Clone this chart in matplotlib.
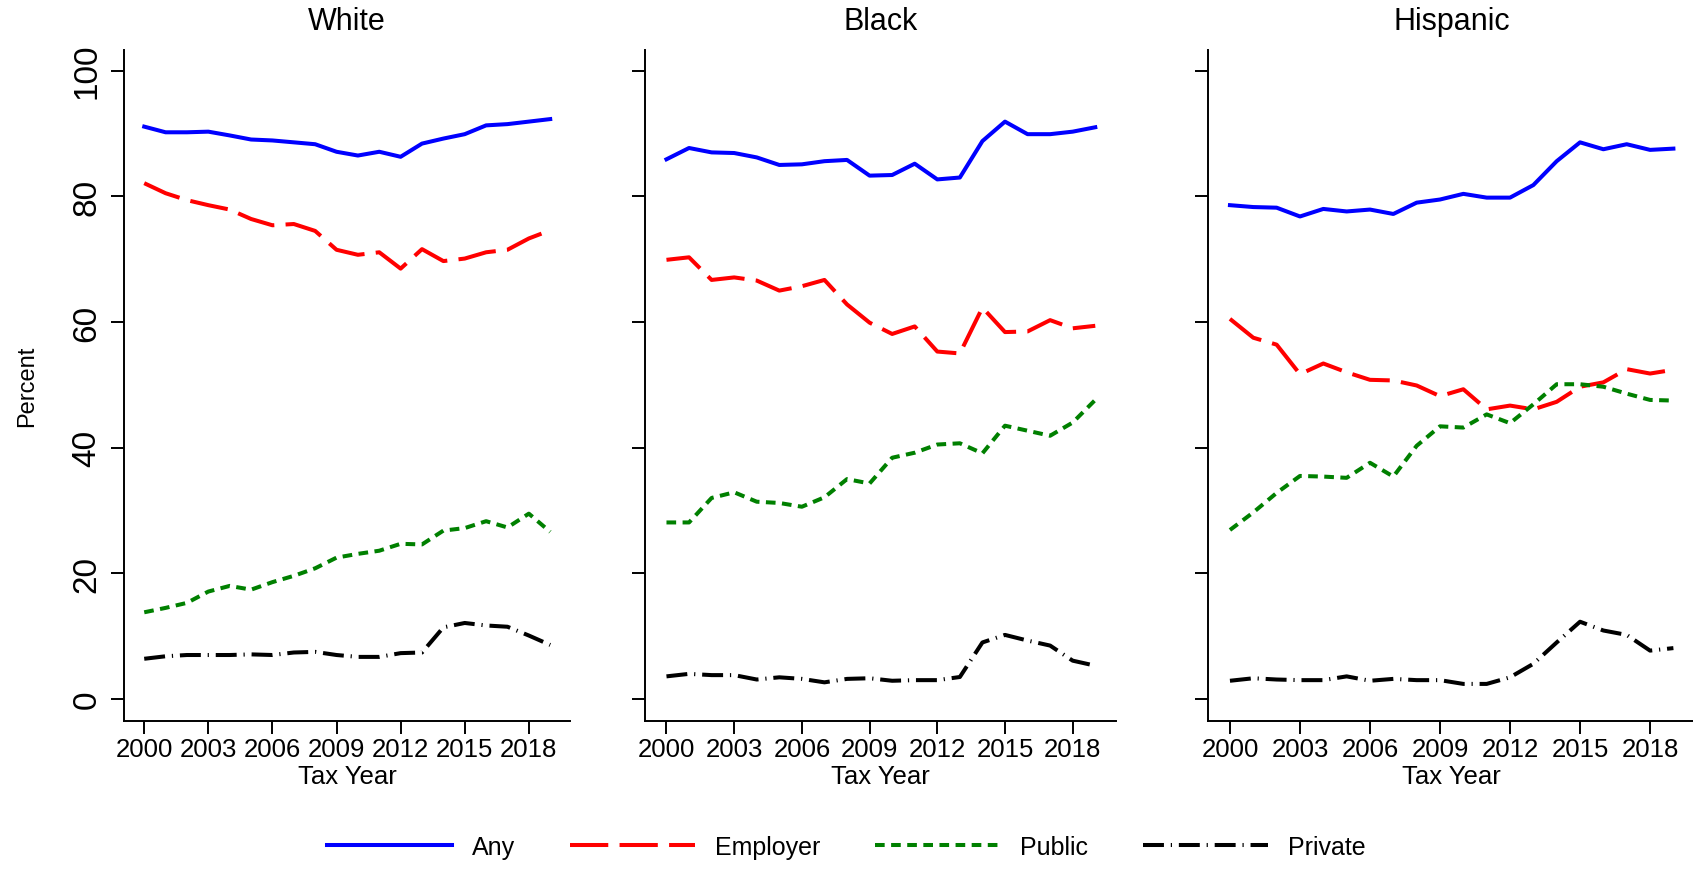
import matplotlib.pyplot as plt

plt.rcParams['font.family'] = ['Liberation Sans', 'DejaVu Sans']

years = list(range(2000, 2020))

# coverage rates (percent) by group
white_any = [91.1, 90.2, 90.2, 90.3, 89.7, 89.05, 88.9, 88.6, 88.3, 87.1,
             86.5, 87.1, 86.3, 88.4, 89.2, 89.9, 91.3, 91.5, 91.9, 92.3]
white_employer = [82.1, 80.5, 79.4, 78.6, 77.9, 76.4, 75.4, 75.6, 74.5, 71.5,
                  70.7, 71.1, 68.5, 71.6, 69.7, 70.1, 71.1, 71.5, 73.3, 74.6]
white_public = [13.8, 14.5, 15.3, 17.1, 18.0, 17.4, 18.6, 19.6, 20.8, 22.5,
                23.1, 23.6, 24.7, 24.6, 26.8, 27.2, 28.3, 27.3, 29.5, 26.6]
white_private = [6.4, 6.8, 7.0, 7.0, 7.0, 7.1, 7.0, 7.4, 7.5, 7.0,
                 6.7, 6.7, 7.3, 7.4, 11.4, 12.1, 11.7, 11.5, 10.1, 8.6]

black_any = [85.9, 87.7, 87.0, 86.9, 86.2, 85.0, 85.1, 85.6, 85.8, 83.3,
             83.4, 85.2, 82.7, 83.0, 88.8, 91.9, 89.9, 89.9, 90.3, 91.0]
black_employer = [69.9, 70.3, 66.7, 67.1, 66.6, 65.0, 65.7, 66.7, 62.8, 59.9,
                  58.1, 59.3, 55.3, 55.0, 62.3, 58.4, 58.5, 60.3, 59.0, 59.4]
black_public = [28.1, 28.1, 32.0, 32.9, 31.4, 31.2, 30.6, 32.1, 35.0, 34.3,
                38.4, 39.2, 40.5, 40.7, 39.1, 43.5, 42.7, 41.9, 44.0, 47.6]
black_private = [3.6, 4.0, 3.8, 3.8, 3.1, 3.45, 3.2, 2.65, 3.2, 3.3,
                 2.9, 3.0, 3.0, 3.5, 9.0, 10.2, 9.3, 8.5, 6.1, 5.3]

hisp_any = [78.6, 78.3, 78.2, 76.8, 78.0, 77.6, 77.9, 77.2, 79.0, 79.5,
            80.4, 79.8, 79.8, 81.8, 85.6, 88.6, 87.5, 88.3, 87.4, 87.6]
hisp_employer = [60.5, 57.5, 56.4, 51.7, 53.4, 52.0, 50.8, 50.7, 49.9, 48.2,
                 49.3, 46.1, 46.7, 46.1, 47.3, 49.7, 50.4, 52.5, 51.8, 52.4]
hisp_public = [26.9, 29.7, 32.8, 35.5, 35.4, 35.2, 37.6, 35.4, 40.3, 43.4,
               43.2, 45.3, 43.9, 46.9, 50.1, 50.1, 49.7, 48.6, 47.6, 47.5]
hisp_private = [2.9, 3.3, 3.1, 3.0, 3.0, 3.6, 2.9, 3.2, 3.0, 3.0,
                2.4, 2.4, 3.45, 5.6, 9.0, 12.3, 10.9, 10.2, 7.7, 8.1]

groups = ["White", "Black", "Hispanic"]
group_data = {
    "White": [white_any, white_employer, white_public, white_private],
    "Black": [black_any, black_employer, black_public, black_private],
    "Hispanic": [hisp_any, hisp_employer, hisp_public, hisp_private],
}

series_names = ["Any", "Employer", "Public", "Private"]
series_styles = [
    dict(color="#0000ff", linestyle="-"),
    dict(color="#ff0000", linestyle=(0, (9.5, 2.8))),
    dict(color="#008000", linestyle=(0, (2.4, 1.6))),
    dict(color="#000000", linestyle=(0, (5.2, 1.7, 0.3, 1.7))),
]

# panel rectangles in figure fractions (left, width)
panel_boxes = [(0.0732, 0.2634), (0.3810, 0.2782), (0.7134, 0.2877)]
bottom, height = 0.1705, 0.7709

fig = plt.figure(figsize=(16.93, 8.70), dpi=100)

handles = []
for i, grp in enumerate(groups):
    left, width = panel_boxes[i]
    ax = fig.add_axes([left, bottom, width, height])
    for vals, name, st in zip(group_data[grp], series_names, series_styles):
        ln, = ax.plot(years, vals, lw=2.9, label=name,
                      solid_joinstyle="round", dash_joinstyle="round", **st)
        if i == 0:
            handles.append(ln)

    ax.set_xlim(1999.05, 2019.92)
    ax.set_ylim(-3.45, 103.3)
    ax.set_xticks(range(2000, 2019, 3))
    ax.set_yticks(range(0, 101, 20))
    for side in ["top", "right"]:
        ax.spines[side].set_visible(False)
    for side in ["left", "bottom"]:
        ax.spines[side].set_linewidth(1.4)
    ax.tick_params(axis="x", length=9, width=1.4, pad=3, labelsize=18.5)
    ax.tick_params(axis="y", length=9.5, width=1.4, pad=6, labelsize=24,
                   labelrotation=90)
    for lbl in ax.get_yticklabels():
        lbl.set_va("center")
    ax.set_xlabel("Tax Year", fontsize=18.5, labelpad=2)
    ax.set_title(grp, fontsize=22, pad=15)
    if i == 0:
        ax.set_ylabel("Percent", fontsize=17, labelpad=24)
    else:
        ax.tick_params(axis="y", labelleft=False)

fig.legend(handles, series_names, loc="center", bbox_to_anchor=(0.5, 1 - 848 / 870),
           ncol=4, frameon=False, fontsize=18, handlelength=5.0,
           handletextpad=0.8, columnspacing=2.2)

fig.savefig("out.png", dpi=100)
plt.close(fig)
